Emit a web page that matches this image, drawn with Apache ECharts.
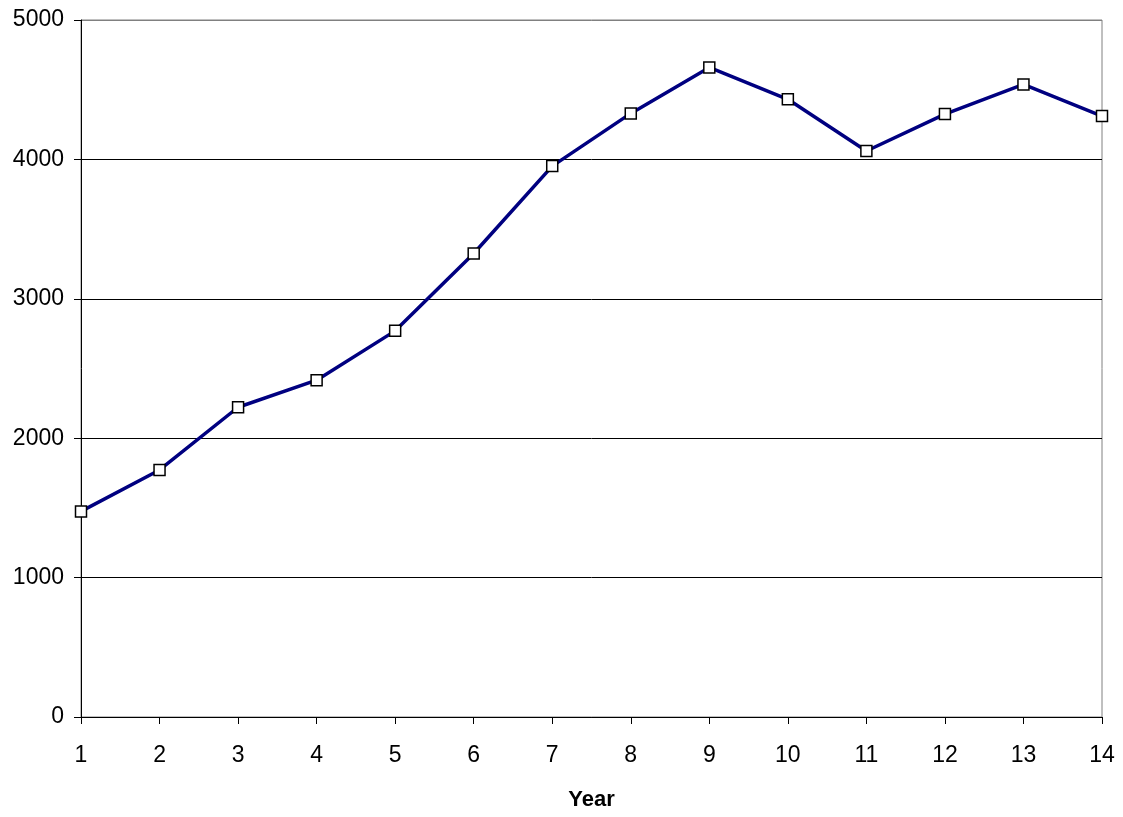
<!DOCTYPE html>
<html>
<head>
<meta charset="utf-8">
<script src="https://cdn.jsdelivr.net/npm/echarts@6/dist/echarts.min.js"></script>
<style>html,body{margin:0;padding:0;background:#fff;}#c{width:1123px;height:817px;}</style>
</head>
<body>
<div id="c"></div>
<script>
const years = ['1','2','3','4','5','6','7','8','9','10','11','12','13','14'];
const values = [1475, 1772, 2222, 2416, 2770, 3325, 3952, 4330, 4660, 4431, 4060, 4325, 4538, 4311];
const yTicks = [0, 1000, 2000, 3000, 4000, 5000];

const chart = echarts.init(document.getElementById('c'), null, {renderer: 'canvas'});
chart.setOption({
  animation: false,
  backgroundColor: '#fff',
  grid: {left: 81, right: 21, top: 20, bottom: 100, show: true, borderColor: '#808080', borderWidth: 1},
  xAxis: {
    type: 'category',
    data: years,
    boundaryGap: false,
    name: 'Year',
    nameLocation: 'middle',
    nameGap: 72,
    nameTextStyle: {fontFamily: 'Liberation Sans', fontSize: 22, fontWeight: 'bold', color: '#000'},
    axisLine: {lineStyle: {color: '#000', width: 1}},
    axisTick: {show: true, length: 7, lineStyle: {color: '#000'}},
    axisLabel: {margin: 27, fontFamily: 'Liberation Sans', fontSize: 23, color: '#000'},
    splitLine: {show: false}
  },
  yAxis: {
    type: 'value',
    min: yTicks[0],
    max: yTicks[yTicks.length - 1],
    interval: 1000,
    axisLine: {show: true, lineStyle: {color: '#000', width: 1}},
    axisTick: {show: true, length: 7, lineStyle: {color: '#000'}},
    axisLabel: {margin: 17, fontFamily: 'Liberation Sans', fontSize: 23, color: '#000', formatter: v => String(v)},
    splitLine: {show: true, lineStyle: {color: ['#000', '#000', '#000', '#000', '#000', '#808080'], width: 1}}
  },
  series: [{
    type: 'line',
    data: values,
    symbol: 'rect',
    symbolSize: 11,
    lineStyle: {color: '#000080', width: 3.5},
    itemStyle: {color: '#fff', borderColor: '#000', borderWidth: 1.5},
    z: 3
  }]
});
</script>
</body>
</html>
